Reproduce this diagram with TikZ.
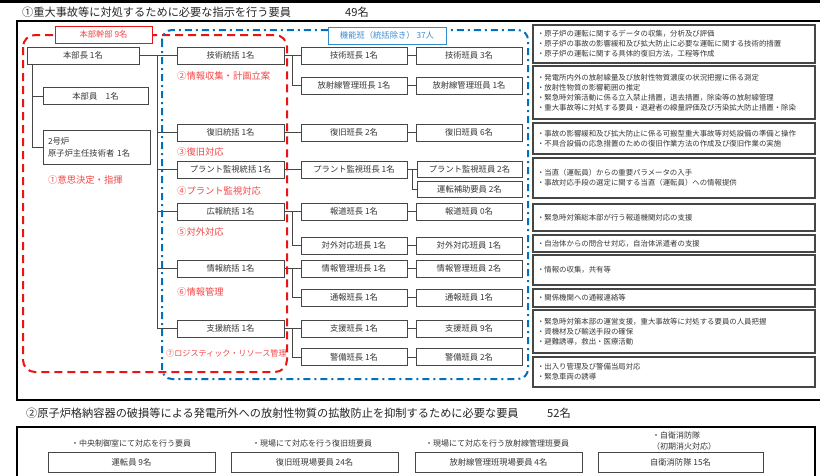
\documentclass[tikz,border=0pt]{standalone}
\usepackage{fontspec}
\setmainfont{Noto Sans CJK JP}
\definecolor{redd}{RGB}{235,20,20}
\definecolor{redt}{RGB}{245,70,70}
\definecolor{blued}{RGB}{0,112,192}
\definecolor{bluet}{RGB}{60,140,210}
\definecolor{boxc}{RGB}{70,70,70}
\definecolor{txt}{RGB}{55,55,55}
\tikzset{
  box/.style={draw=boxc, line width=0.8pt, fill=white, minimum height=17pt, inner sep=1pt, font=\fontsize{8.3}{10}\selectfont, text=txt},
  midbox/.style={box, minimum width=107pt},
  hanbox/.style={box, minimum width=106pt},
  descbox/.style={draw=boxc, line width=1.2pt, fill=white, align=left, text width=274pt, inner xsep=4pt, inner ysep=1pt, font=\fontsize{7.4}{10}\selectfont, text=txt},
  s2box/.style={box, minimum height=20pt, font=\fontsize{8.3}{10}\selectfont},
  s2lab/.style={inner sep=0pt, font=\fontsize{8}{11}\selectfont, text=txt},
  lab/.style={anchor=west, inner sep=0pt, text=redt, font=\fontsize{9.3}{11}\selectfont},
  conn/.style={draw=boxc, line width=0.8pt},
  frame/.style={line width=2.6pt, draw=black},
  title/.style={anchor=west, inner sep=0pt, font=\fontsize{11.2}{13}\selectfont, text=black!85},
  reddash/.style={draw=redd, line width=2pt, dash pattern=on 8pt off 5pt, rounded corners=12pt},
  bluedash/.style={draw=blued, line width=2pt, dash pattern=on 7pt off 4pt on 2pt off 4pt, rounded corners=10pt}
}
\begin{document}
\begin{tikzpicture}[x=1pt,y=-1pt]
\useasboundingbox (0,0) rectangle (820,475);
\fill[white] (0,0) rectangle (820,475);
% top line and frames
\draw[frame] (0,1.5) -- (820,1.5);
\draw[frame] (826,21) -- (17,21) -- (17,400) -- (826,400);
\draw[frame] (815,482) -- (815,427) -- (17,427) -- (17,482);
% titles
\node[title] (t1) at (22,12) {①重大事故等に対処するために必要な指示を行う要員};
\node[title] (t1n) at (345,12) {49名};
\node[title] (t2) at (26,413) {②原子炉格納容器の破損等による発電所外への放射性物質の拡散防止を抑制するために必要な要員};
\node[title] (t2n) at (547,413) {52名};

% left column
\node[box, minimum width=112pt] (honbucho) at (83,55.5) {本部長\ 1名};
\node[box, minimum width=105pt] (honbuin) at (95.5,96) {本部員\quad 1名};
\node[box, minimum width=107pt, minimum height=34pt, align=left, text width=97pt, inner xsep=5pt, font=\fontsize{8.3}{12}\selectfont] (nigo) at (96.5,147) {2号炉\\原子炉主任技術者 1名};

% middle column
\node[midbox] (gijutsu_t) at (230.5,55.5) {技術統括\ 1名};
\node[midbox] (fukkyu_t) at (230.5,132.5) {復旧統括\ 1名};
\node[midbox] (plant_t) at (230.5,169.5) {プラント監視統括\ 1名};
\node[midbox] (koho_t) at (230.5,211.5) {広報統括\ 1名};
\node[midbox] (joho_t) at (230.5,268.5) {情報統括\ 1名};
\node[midbox] (shien_t) at (230.5,328.5) {支援統括\ 1名};

% hancho column
\node[hanbox] (gijutsu_h) at (354,55.5) {技術班長\ 1名};
\node[hanbox] (hosha_h) at (354,85.5) {放射線管理班長\ 1名};
\node[hanbox] (fukkyu_h) at (354,132.5) {復旧班長\ 2名};
\node[hanbox] (plant_h) at (354,169.5) {プラント監視班長\ 1名};
\node[hanbox] (hodo_h) at (354,211.5) {報道班長\ 1名};
\node[hanbox] (taigai_h) at (354,245.5) {対外対応班長\ 1名};
\node[hanbox] (johokanri_h) at (354,268.5) {情報管理班長\ 1名};
\node[hanbox] (tsuho_h) at (354,297.5) {通報班長\ 1名};
\node[hanbox] (shien_h) at (354,328.5) {支援班長\ 1名};
\node[hanbox] (keibi_h) at (354,357) {警備班長\ 1名};

% hanin column
\node[hanbox] (gijutsu_m) at (469,55.5) {技術班員\ 3名};
\node[hanbox] (hosha_m) at (469,85.5) {放射線管理班員\ 1名};
\node[hanbox] (fukkyu_m) at (469,132.5) {復旧班員\ 6名};
\node[hanbox, minimum width=105pt, minimum height=16pt] (plant_m) at (469.5,169.5) {プラント監視班員\ 2名};
\node[hanbox, minimum width=105pt, minimum height=16pt] (unten_m) at (469.5,189) {運転補助要員\ 2名};
\node[hanbox] (hodo_m) at (469,211.5) {報道班員\ 0名};
\node[hanbox] (taigai_m) at (469,245.5) {対外対応班員\ 1名};
\node[hanbox] (johokanri_m) at (469,268.5) {情報管理班員\ 2名};
\node[hanbox] (tsuho_m) at (469,297.5) {通報班員\ 1名};
\node[hanbox] (shien_m) at (469,328.5) {支援班員\ 9名};
\node[hanbox] (keibi_m) at (469,357) {警備班員\ 2名};

% connectors
\coordinate (lt) at (32,64);
\draw[conn] (lt) |- (nigo.west);
\draw[conn] (honbuin.west) -- (honbuin.west -| lt);
\coordinate (trunkTop) at (157,55.5);
\coordinate (trunkBot) at (157,328.5);
\draw[conn] (honbucho.east) -- (gijutsu_t.west);
\draw[conn] (trunkTop) -- (trunkBot);
\foreach \n in {fukkyu_t,plant_t,koho_t,joho_t,shien_t}{
  \draw[conn] (\n.west) -- (\n.west -| trunkTop);
}
\foreach \a/\b in {gijutsu_t/gijutsu_h, fukkyu_t/fukkyu_h, plant_t/plant_h, koho_t/hodo_h, joho_t/johokanri_h, shien_t/shien_h}{
  \draw[conn] (\a.east) -- (\b.west);
}
\coordinate (j1) at (292,55.5);
\coordinate (j2) at (292,211.5);
\coordinate (j3) at (292,268.5);
\coordinate (j4) at (292,328.5);
\draw[conn] (j1) |- (hosha_h.west);
\draw[conn] (j2) |- (taigai_h.west);
\draw[conn] (j3) |- (tsuho_h.west);
\draw[conn] (j4) |- (keibi_h.west);
\foreach \a/\b in {gijutsu_h/gijutsu_m, hosha_h/hosha_m, fukkyu_h/fukkyu_m, plant_h/plant_m, hodo_h/hodo_m, taigai_h/taigai_m, johokanri_h/johokanri_m, tsuho_h/tsuho_m, shien_h/shien_m, keibi_h/keibi_m}{
  \draw[conn] (\a.east) -- (\b.west);
}
\coordinate (j5) at (412,169.5);
\draw[conn] (j5) |- (unten_m.west);

% dashed group outlines
\draw[reddash] (23,35) rectangle (287,372);
\draw[bluedash] (162,30) rectangle (528,379);

% group label boxes
\node[draw=redd, line width=0.8pt, fill=white, minimum width=97pt, minimum height=17pt, inner sep=1pt, text=redt, font=\fontsize{8.3}{10}\selectfont] (kanbu) at (103.5,34.5) {本部幹部\ 9名};
\node[draw=blued!80, line width=0.8pt, fill=white, minimum width=118pt, minimum height=17pt, inner sep=1pt, text=bluet, font=\fontsize{8.3}{10}\selectfont] (kinou) at (387,35.5) {機能班（統括除き）\ 37人};

% red labels
\node[lab] (l1) at (48,180) {①意思決定・指揮};
\node[lab] (l2) at (177,76) {②情報収集・計画立案};
\node[lab] (l3) at (177,152) {③復旧対応};
\node[lab] (l4) at (177,191) {④プラント監視対応};
\node[lab] (l5) at (177,232) {⑤対外対応};
\node[lab] (l6) at (177,292) {⑥情報管理};
\node[lab, font=\fontsize{8.1}{10}\selectfont] (l7) at (166,353) {⑦ロジスティック・リソース管理};

% description boxes
\node[descbox, minimum height=38pt] (d1) at (674,44) {・原子炉の運転に関するデータの収集，分析及び評価\\・原子炉の事故の影響緩和及び拡大防止に必要な運転に関する技術的措置\\・原子炉の運転に関する具体的復旧方法，工程等作成};
\node[descbox, minimum height=53pt] (d2) at (674,92.5) {・発電所内外の放射線量及び放射性物質濃度の状況把握に係る測定\\・放射性物質の影響範囲の推定\\・緊急時対策活動に係る立入禁止措置，退去措置，除染等の放射線管理\\・重大事故等に対処する要員・退避者の線量評価及び汚染拡大防止措置・除染};
\node[descbox, minimum height=31pt] (d3) at (674,138.5) {・事故の影響緩和及び拡大防止に係る可搬型重大事故等対処設備の準備と操作\\・不具合設備の応急措置のための復旧作業方法の作成及び復旧作業の実施};
\node[descbox, minimum height=40pt] (d4) at (674,178) {・当直（運転員）からの重要パラメータの入手\\・事故対応手段の選定に関する当直（運転員）への情報提供};
\node[descbox, minimum height=27pt] (d5) at (674,217.5) {・緊急時対策総本部が行う報道機関対応の支援};
\node[descbox, minimum height=17pt] (d6) at (674,243.5) {・自治体からの問合せ対応，自治体派遣者の支援};
\node[descbox, minimum height=30pt] (d7) at (674,270) {・情報の収集，共有等};
\node[descbox, minimum height=18pt] (d8) at (674,298) {・関係機関への通報連絡等};
\node[descbox, minimum height=43pt] (d9) at (674,331.5) {・緊急時対策本部の運営支援，重大事故等に対処する要員の人員把握\\・資機材及び輸送手段の確保\\・避難誘導，救出・医療活動};
\node[descbox, minimum height=30pt] (d10) at (674,372) {・出入り管理及び警備当局対応\\・緊急車両の誘導};

% section 2
\node[s2lab] (s2l1) at (131,443) {・中央制御室にて対応を行う要員};
\node[s2box, minimum width=167pt] (s2b1) at (131.5,462) {運転員\ 9名};
\node[s2lab] (s2l2) at (312,443) {・現場にて対応を行う復旧班要員};
\node[s2box, minimum width=167pt] (s2b2) at (314.5,462) {復旧班現場要員\ 24名};
\node[s2lab] (s2l3) at (497,443) {・現場にて対応を行う放射線管理班要員};
\node[s2box, minimum width=167pt] (s2b3) at (498.5,462) {放射線管理班現場要員\ 4名};
\node[s2lab, anchor=west, align=left] (s2l4) at (652,441) {・自衛消防隊\\（初期消火対応）};
\node[s2box, minimum width=165pt] (s2b4) at (680.5,462) {自衛消防隊\ 15名};
\end{tikzpicture}
\end{document}
